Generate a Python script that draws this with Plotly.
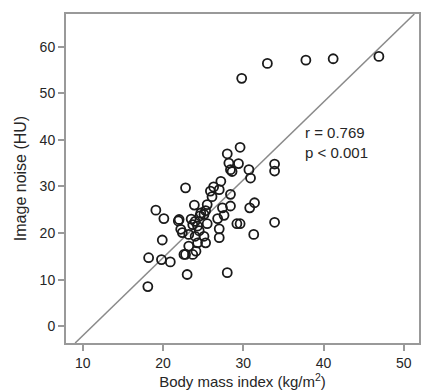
import plotly.graph_objects as go
import numpy as np

# Data (BMI in kg/m^2, image noise in HU)
bmi = [29.8, 33.0, 37.8, 41.2, 46.9,
       33.9, 33.9, 33.9,
       29.6, 28.0, 28.2, 29.4, 28.4, 28.6, 30.7, 30.9, 27.2, 26.3, 27.0, 25.9, 28.4, 26.1,
       22.8, 23.9, 25.1, 27.4, 30.8, 31.4, 27.6, 26.8, 27.0, 27.0, 29.2, 29.6, 31.3, 28.0, 25.5, 28.4,
       19.1, 20.1, 21.9, 22.4, 19.9, 18.2, 19.8, 20.9, 22.6, 23.0, 18.1, 22.0,
       23.7, 24.3, 23.2, 24.0, 25.1, 25.3, 23.2, 24.3, 22.8, 23.7, 24.1, 24.0, 23.5, 24.5, 25.3, 24.6, 22.2, 25.5, 24.7]
noise = [53.2, 56.4, 57.1, 57.4, 57.9,
         34.8, 33.3, 22.3,
         38.4, 37.0, 35.0, 34.9, 33.6, 33.2, 33.6, 31.8, 31.1, 29.9, 29.3, 29.0, 28.3, 27.8,
         29.7, 26.0, 24.0, 25.4, 25.4, 26.5, 23.8, 23.1, 20.9, 19.0, 22.0, 22.0, 19.7, 11.5, 26.1, 25.8,
         24.9, 23.1, 22.6, 20.1, 18.5, 14.7, 14.3, 13.8, 15.4, 11.1, 8.5, 22.9,
         21.8, 21.5, 19.7, 19.3, 19.3, 17.9, 17.2, 17.9, 15.4, 15.4, 16.1, 22.5, 23.0, 20.5, 24.8, 23.7, 20.8, 22.0, 24.3]

x_ticks = [10, 20, 30, 40, 50]
y_ticks = [0, 10, 20, 30, 40, 50, 60]
x_range = [7.9, 51.9]
y_range = [-3.6, 67.0]

# fitted line coefficients
line_slope = 1.67
line_intercept = -18.7
annotation_text = "r = 0.769<br>p < 0.001"

lx = np.array([(y_range[0] - line_intercept) / line_slope,
               (y_range[1] - line_intercept) / line_slope])
ly = line_intercept + line_slope * lx

FONT = "Liberation Sans, Arial, sans-serif"
font_color = "#262626"

fig = go.Figure()
fig.add_trace(go.Scatter(x=lx, y=ly, mode="lines",
                         line=dict(color="#8a8a8a", width=1.5),
                         hoverinfo="skip", showlegend=False))
fig.add_trace(go.Scatter(x=bmi, y=noise, mode="markers",
                         marker=dict(symbol="circle-open", size=9,
                                     color="#1a1a1a", line=dict(width=1.8, color="#1a1a1a")),
                         showlegend=False))

fig.add_annotation(x=37.4, y=39.5, xref="x", yref="y", text=annotation_text,
                   showarrow=False, xanchor="left", yanchor="middle", align="left",
                   font=dict(family=FONT, size=15, color=font_color))

axis_common = dict(showgrid=False, zeroline=False, showline=True, mirror=True,
                   linecolor="#999999", linewidth=2, ticks="outside", ticklen=6,
                   tickcolor="#999999", tickwidth=1.5,
                   tickfont=dict(family=FONT, size=14, color=font_color))

fig.update_layout(
    width=425, height=391,
    margin=dict(l=66, r=4, t=14, b=47),
    paper_bgcolor="white", plot_bgcolor="white",
    xaxis=dict(range=x_range, tickvals=x_ticks,
               title=dict(text="Body mass index (kg/m<sup>2</sup>)", standoff=6,
                          font=dict(family=FONT, size=15, color=font_color)),
               **axis_common),
    yaxis=dict(range=y_range, tickvals=y_ticks,
               title=dict(text="Image noise (HU)", standoff=9,
                          font=dict(family=FONT, size=16, color=font_color)),
               **axis_common),
)

fig.write_html("out.html", config={"displayModeBar": False},
               post_script="document.body.style.margin='0';document.body.style.padding='0';")
